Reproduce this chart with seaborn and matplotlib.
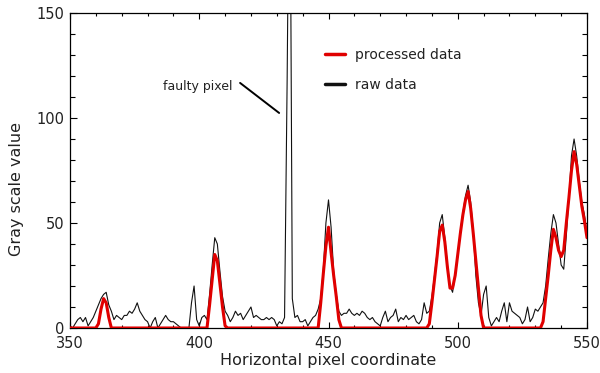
import numpy as np
import pandas as pd
import matplotlib
matplotlib.use("Agg")
import matplotlib.pyplot as plt
import seaborn as sns
from matplotlib.ticker import MultipleLocator

# ---- data -------------------------------------------------------------
pixel = np.arange(350, 551)

raw_data = [
    1, 0, 2, 4, 5, 3, 5, 1, 3, 5,          # 350
    8, 11, 14, 16, 17, 11, 8, 4, 6, 5,     # 360
    4, 6, 6, 8, 7, 9, 12, 8, 6, 4,         # 370
    3, 0, 3, 5, 0, 2, 4, 6, 4, 3,          # 380
    3, 2, 1, 0, 0, 0, 0, 12, 20, 4,        # 390
    1, 5, 6, 4, 16, 30, 43, 40, 27, 15,    # 400
    8, 6, 3, 5, 8, 6, 7, 4, 6, 8,          # 410
    10, 5, 6, 5, 4, 4, 5, 4, 5, 4,         # 420
    1, 3, 2, 5, 118, 260, 14, 5, 6, 3,     # 430
    3, 4, 1, 3, 5, 6, 9, 14, 28, 50,       # 440
    61, 48, 27, 16, 8, 6, 7, 7, 9, 7,      # 450
    6, 7, 6, 8, 7, 5, 4, 5, 3, 2,          # 460
    1, 5, 8, 3, 5, 6, 9, 3, 5, 4,          # 470
    6, 4, 5, 6, 3, 2, 4, 12, 7, 8,         # 480
    15, 25, 36, 50, 54, 43, 30, 20, 17, 25,  # 490
    34, 46, 55, 63, 68, 60, 46, 25, 12, 6,   # 500
    16, 20, 5, 1, 3, 5, 3, 8, 12, 3,       # 510
    12, 8, 7, 6, 5, 2, 4, 10, 3, 5,        # 520
    9, 8, 10, 12, 20, 33, 45, 54, 50, 40,  # 530
    30, 28, 44, 62, 82, 90, 82, 70, 60, 54,  # 540
    45,                                    # 550
]

processed_data = [
    0, 0, 0, 0, 0, 0, 0, 0, 0, 0,          # 350
    0, 2, 9, 14, 12, 5, 0, 0, 0, 0,        # 360
    0, 0, 0, 0, 0, 0, 0, 0, 0, 0,          # 370
    0, 0, 0, 0, 0, 0, 0, 0, 0, 0,          # 380
    0, 0, 0, 0, 0, 0, 0, 0, 0, 0,          # 390
    0, 0, 0, 0, 11, 23, 35, 32, 21, 10,    # 400
    1, 0, 0, 0, 0, 0, 0, 0, 0, 0,          # 410
    0, 0, 0, 0, 0, 0, 0, 0, 0, 0,          # 420
    0, 0, 0, 0, 0, 0, 0, 0, 0, 0,          # 430
    0, 0, 0, 0, 0, 0, 0, 12, 26, 39,       # 440
    48, 36, 25, 15, 4, 0, 0, 0, 0, 0,      # 450
    0, 0, 0, 0, 0, 0, 0, 0, 0, 0,          # 460
    0, 0, 0, 0, 0, 0, 0, 0, 0, 0,          # 470
    0, 0, 0, 0, 0, 0, 0, 0, 0, 2,          # 480
    12, 23, 34, 46, 49, 41, 29, 19, 19, 25,  # 490
    35, 45, 54, 61, 65, 57, 45, 32, 19, 6,   # 500
    0, 0, 0, 0, 0, 0, 0, 0, 0, 0,          # 510
    0, 0, 0, 0, 0, 0, 0, 0, 0, 0,          # 520
    0, 0, 0, 3, 14, 25, 37, 47, 43, 37,    # 530
    34, 37, 50, 62, 75, 84, 78, 68, 58, 51,  # 540
    43,                                    # 550
]

x_major_ticks = [350, 400, 450, 500, 550]
y_major_ticks = [0, 50, 100, 150]

# ---- style ------------------------------------------------------------
sns.set_style("ticks")
plt.rcParams['font.family'] = ['DejaVu Sans']
text_color = '#222222'

fig = plt.figure(figsize=(6, 3.73), dpi=100)
ax = fig.add_axes([70 / 600, 1 - 328 / 373, 517 / 600, 315 / 373])

df = pd.DataFrame({'pixel': pixel, 'raw': raw_data, 'processed': processed_data})

sns.lineplot(data=df, x='pixel', y='raw', color='#111111', lw=0.8,
             ax=ax, label='raw data', zorder=2)
sns.lineplot(data=df, x='pixel', y='processed', color='#e00000', lw=2.2,
             ax=ax, label='processed data', zorder=3)

ax.set_xlim(350, 550)
ax.set_ylim(0, 150)
ax.set_xticks(x_major_ticks)
ax.set_yticks(y_major_ticks)
ax.xaxis.set_minor_locator(MultipleLocator(10))
ax.yaxis.set_minor_locator(MultipleLocator(10))

ax.tick_params(which='both', direction='in', top=True, right=True,
               width=0.8, color='black', labelsize=10.5, labelcolor=text_color)
ax.tick_params(axis='x', which='major', length=4.3, pad=6)
ax.tick_params(axis='x', which='minor', length=2.2)
ax.tick_params(axis='y', which='major', length=5, pad=4)
ax.tick_params(axis='y', which='minor', length=3.6)
for s in ax.spines.values():
    s.set_linewidth(0.9)
    s.set_color('black')

ax.set_xlabel('Horizontal pixel coordinate', fontsize=11.5, color=text_color, labelpad=1)
ax.set_ylabel('Gray scale value', fontsize=11.5, color=text_color)
ax.yaxis.set_label_coords(-0.089, 0.44)

# annotation for the faulty pixel
ax.text(413, 114.8, 'faulty pixel', ha='right', va='center', fontsize=9, color=text_color)
ax.annotate('', xy=(430.9, 102.4), xytext=(415.8, 116.7),
            arrowprops=dict(arrowstyle='-', lw=1.4, color='black',
                            shrinkA=0, shrinkB=0))

# legend: processed first, raw second
handles, labels = ax.get_legend_handles_labels()
order = [labels.index('processed data'), labels.index('raw data')]
leg = ax.legend([handles[i] for i in order], [labels[i] for i in order],
                loc='upper left', bbox_to_anchor=(0.493, 0.89),
                frameon=False, fontsize=10, handlelength=1.45,
                handletextpad=0.75, labelspacing=1.15, borderpad=0,
                borderaxespad=0)
for t in leg.get_texts():
    t.set_color(text_color)
for l in leg.get_lines():
    l.set_linewidth(2.5)

fig.savefig('out.png', dpi=100)
